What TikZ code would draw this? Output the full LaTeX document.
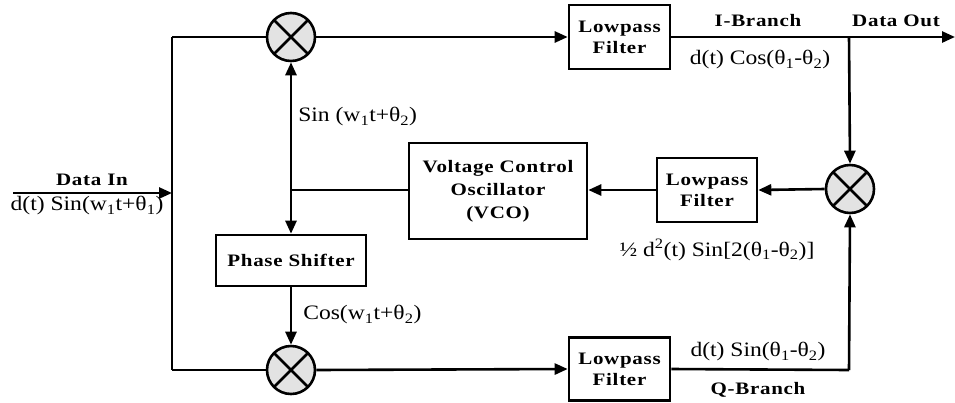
\documentclass[tikz,border=0pt]{standalone}
\usepackage{fontspec}
\setmainfont[FakeStretch=1.15]{Liberation Serif}
\newfontfamily\boldwide[LetterSpace=4,FakeStretch=1.2]{Liberation Serif Bold}
\usetikzlibrary{arrows.meta}
\begin{document}
\begin{tikzpicture}[x=1pt,y=-1pt,
  line width=2.6pt,
  arr/.style={-{Triangle[length=13pt,width=11pt]}},
  mixer/.style={circle,draw,fill=gray!22,minimum size=48pt,inner sep=0pt,
    path picture={\draw[line width=2.6pt] (path picture bounding box.north west)--(path picture bounding box.south east)
      (path picture bounding box.north east)--(path picture bounding box.south west);}},
  blk/.style={draw,align=center,inner sep=0pt,font=\fontsize{17.5}{21}\boldwide},
  lbl/.style={font=\fontsize{20.5}{22}\selectfont,inner sep=0pt},
  blbl/.style={font=\fontsize{17.5}{18}\boldwide,inner sep=0pt}]
\useasboundingbox (0,0) rectangle (955,402);
% nodes
\node[mixer] (mT) at (291,37) {};
\node[mixer] (mB) at (291,370) {};
\node[mixer] (mR) at (850,189) {};
\node[blk,minimum width=101pt,minimum height=64pt] (lpfT) at (619.5,37) {Lowpass\\Filter};
\node[blk,minimum width=100pt,minimum height=64pt] (lpfM) at (707,190) {Lowpass\\Filter};
\node[blk,minimum width=101pt,minimum height=63pt] (lpfB) at (619.5,369) {Lowpass\\Filter};
\node[blk,minimum width=178pt,minimum height=96pt,font=\fontsize{17.5}{23}\boldwide] (vco) at (498,191) {Voltage Control\\Oscillator\\(VCO)};
\node[blk,minimum width=150pt,minimum height=51pt] (ps) at (291,260.5) {Phase Shifter};
% coordinates
\coordinate (in) at (13,193);
\coordinate (jIn) at (172,193);
\coordinate (cTL) at (172,37);
\coordinate (cBL) at (172,370);
\coordinate (jOut) at (849,37);
\coordinate (out) at (955,37);
\coordinate (jV) at (291,190);
\coordinate (cBR) at (849,370);
% connectors
\draw[arr] (in) -- (jIn);
\draw (cTL) -- (cBL);
\draw (cTL) -- (mT.west);
\draw (cBL) -- (mB.west);
\draw[arr] (mT.east) -- (lpfT.west);
\draw[arr] (mB.east) -- (lpfB.west);
\draw (lpfT.east) -- (jOut);
\draw[arr] (jOut) -- (out);
\draw[arr] (jOut) -- (mR.north);
\draw[arr] (mR.west) -- (lpfM.east);
\draw[arr] (lpfM.west) -- (vco.east |- lpfM.west);
\draw (vco.west |- jV) -- (jV);
\draw[arr] (jV) -- (mT.south);
\draw[arr] (jV) -- (ps.north);
\draw[arr] (ps.south) -- (mB.north);
\draw (lpfB.east) -- (cBR);
\draw[arr] (cBR) -- (mR.south);
% labels
\node[blbl] (tIn) at (92,180) {Data In};
\node[lbl] (tInS) at (87,206) {d(t) Sin(w\textsubscript{1}t+θ\textsubscript{1})};
\node[lbl,anchor=west] (tSin) at (297,117) {Sin (w\textsubscript{1}t+θ\textsubscript{2})};
\node[lbl,anchor=west] (tCos) at (302,315) {Cos(w\textsubscript{1}t+θ\textsubscript{2})};
\node[blbl] (tI) at (758,21) {I-Branch};
\node[blbl] (tOut) at (896,21) {Data Out};
\node[lbl] (tIC) at (760,60) {d(t) Cos(θ\textsubscript{1}-θ\textsubscript{2})};
\node[lbl] (tHalf) at (717,250) {½ d\textsuperscript{2}(t) Sin[2(θ\textsubscript{1}-θ\textsubscript{2})]};
\node[lbl] (tQS) at (758,352) {d(t) Sin(θ\textsubscript{1}-θ\textsubscript{2})};
\node[blbl] (tQ) at (758,390) {Q-Branch};
\end{tikzpicture}
\end{document}
